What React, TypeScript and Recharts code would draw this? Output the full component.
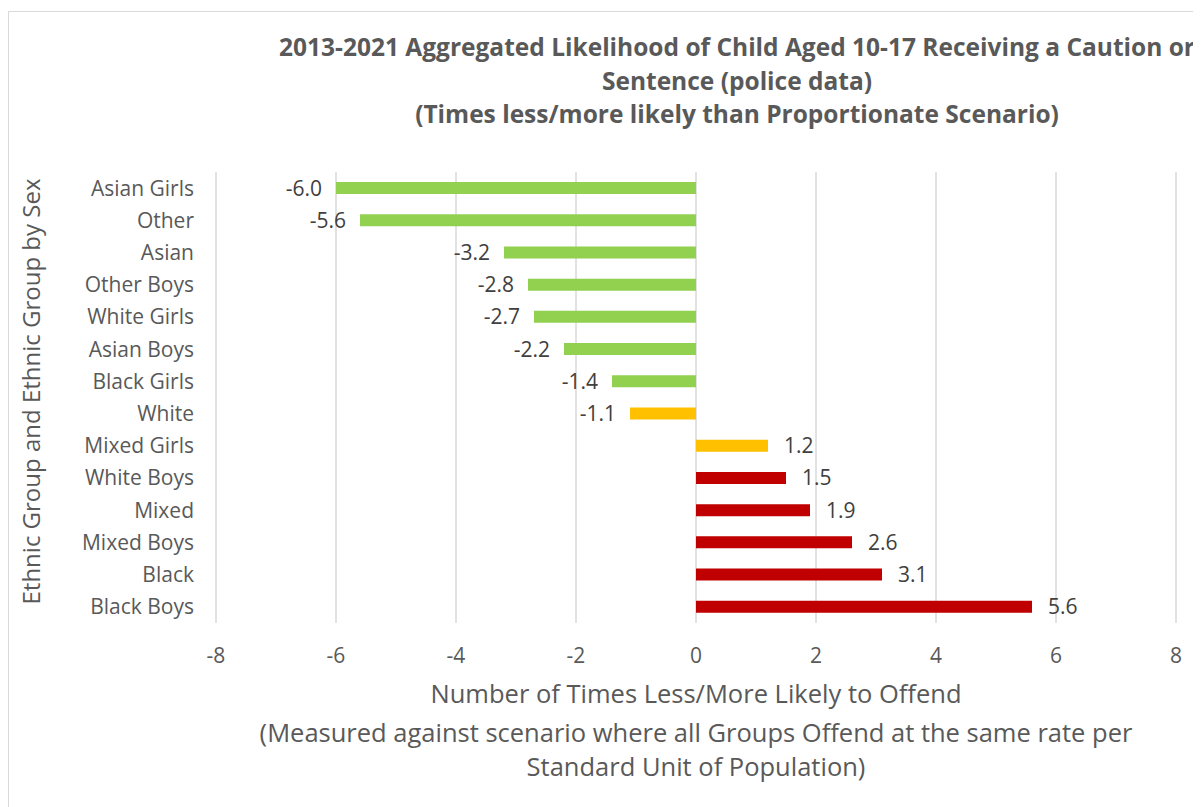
import { Bar, BarChart, CartesianGrid, Cell, LabelList, XAxis, YAxis } from "recharts";

const groups = [
  "Asian Girls",
  "Other",
  "Asian",
  "Other Boys",
  "White Girls",
  "Asian Boys",
  "Black Girls",
  "White",
  "Mixed Girls",
  "White Boys",
  "Mixed",
  "Mixed Boys",
  "Black",
  "Black Boys",
];

const likelihood = [-6.0, -5.6, -3.2, -2.8, -2.7, -2.2, -1.4, -1.1, 1.2, 1.5, 1.9, 2.6, 3.1, 5.6];

const xTicks = [-8, -6, -4, -2, 0, 2, 4, 6, 8];

const titleLines = [
  "2013-2021 Aggregated Likelihood of Child Aged 10-17 Receiving a Caution or",
  "Sentence (police data)",
  "(Times less/more likely than Proportionate Scenario)",
];

const xTitleLines = [
  "Number of Times Less/More Likely to Offend",
  "(Measured against scenario where all Groups Offend at the same rate per",
  "Standard Unit of Population)",
];

const yTitle = "Ethnic Group and Ethnic Group by Sex";

const data = groups.map((group, i) => ({ group, value: likelihood[i] }));

const FONT = '"Open Sans", "Liberation Sans", sans-serif';
const TEXT = "#595959";

// RAG colouring: close to proportionate is amber
function colorFor(v: number) {
  if (Math.abs(v) <= 1.25) return "#FFC000";
  return v < 0 ? "#92D050" : "#C00000";
}

function ValueLabel(props: any) {
  const { x, y, width, height, value } = props;
  const left = Math.min(x, x + width);
  const right = Math.max(x, x + width);
  const neg = value < 0;
  return (
    <text
      x={neg ? left - 14 : right + 16}
      y={y + height / 2}
      dy="0.36em"
      textAnchor={neg ? "end" : "start"}
      fontSize={21}
      fontFamily={FONT}
      fill="#404040"
    >
      {Number(value).toFixed(1)}
    </text>
  );
}

function XTitle(props: any) {
  const { viewBox } = props;
  const cx = viewBox.x + viewBox.width / 2;
  const top = viewBox.y;
  const offsets = [80, 119, 153];
  return (
    <text textAnchor="middle" fontSize={25.5} fontFamily={FONT} fill={TEXT}>
      {xTitleLines.map((line, i) => (
        <tspan key={i} x={cx} y={top + offsets[i]}>
          {line}
        </tspan>
      ))}
    </text>
  );
}

function YTitle(props: any) {
  const { viewBox } = props;
  const cy = viewBox.y + viewBox.height / 2 - 6;
  const cx = 23;
  return (
    <text
      x={cx}
      y={cy}
      transform={`rotate(-90 ${cx} ${cy})`}
      textAnchor="middle"
      dy="0.35em"
      fontSize={24}
      fontFamily={FONT}
      fill={TEXT}
    >
      {yTitle}
    </text>
  );
}

export default function App() {
  return (
    <div style={{ width: 1193, height: 799, overflow: "hidden", paddingTop: 3 }}>
      <div
        style={{
          position: "relative",
          width: 1400,
          height: 900,
          borderTop: "1px solid #d9d9d9",
          borderLeft: "1px solid #d9d9d9",
          background: "#fff",
        }}
      >
        <div
          style={{
            position: "absolute",
            left: 728 - 700,
            top: 18,
            width: 1400,
            textAlign: "center",
            whiteSpace: "nowrap",
            fontFamily: FONT,
            fontWeight: 700,
            fontSize: 24.5,
            lineHeight: "33.5px",
            color: TEXT,
          }}
        >
          {titleLines.map((line, i) => (
            <div key={i}>{line}</div>
          ))}
        </div>
        <BarChart
          width={1192}
          height={795}
          data={data}
          layout="vertical"
          margin={{ top: 160, right: 25, bottom: 144, left: 47 }}
          barSize={12}
          style={{ position: "absolute", left: 0, top: 0 }}
        >
          <CartesianGrid
            horizontal={false}
            vertical
            stroke="#d9d9d9"
            strokeWidth={1.5}
          />
          <XAxis
            type="number"
            domain={[-8, 8]}
            ticks={xTicks}
            axisLine={false}
            tickLine={false}
            tickSize={0}
            tickMargin={25}
            height={40}
            tick={{ fontSize: 21, fontFamily: FONT, fill: TEXT }}
            label={{ content: XTitle }}
          />
          <YAxis
            type="category"
            dataKey="group"
            width={160}
            axisLine={false}
            tickLine={false}
            tickSize={0}
            tickMargin={22}
            interval={0}
            tick={{ fontSize: 21, fontFamily: FONT, fill: TEXT }}
            label={{ content: YTitle }}
          />
          <Bar dataKey="value" isAnimationActive={false}>
            {data.map((d, i) => (
              <Cell key={i} fill={colorFor(d.value)} />
            ))}
            <LabelList dataKey="value" content={ValueLabel} />
          </Bar>
        </BarChart>
      </div>
    </div>
  );
}
